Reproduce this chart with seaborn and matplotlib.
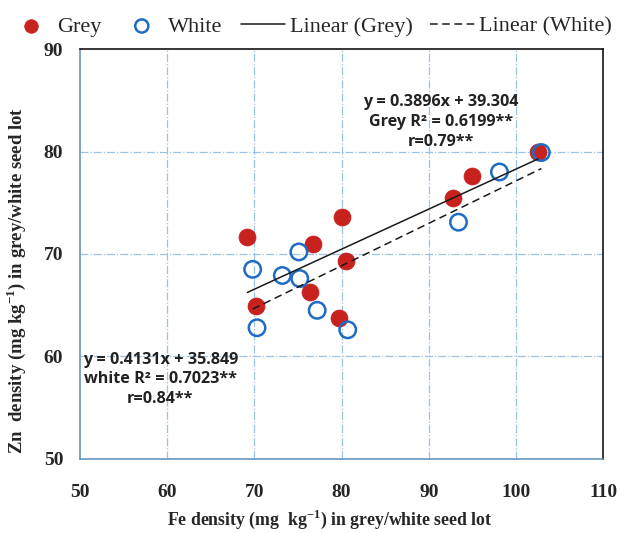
import numpy as np
import pandas as pd
import matplotlib
matplotlib.use("Agg")
import matplotlib.pyplot as plt
import seaborn as sns

# Fe / Zn densities (mg kg-1)
grey_fe = [69.2, 80.1, 76.7, 80.5, 76.4, 70.2, 79.7, 92.8, 94.9, 102.5]
grey_zn = [71.7, 73.6, 71.0, 69.3, 66.3, 64.9, 63.8, 75.5, 77.6, 80.0]
white_fe = [69.8, 75.1, 73.2, 75.2, 77.2, 70.3, 80.7, 93.4, 98.1, 102.9]
white_zn = [68.5, 70.2, 67.9, 67.6, 64.5, 62.8, 62.6, 73.1, 78.0, 79.9]

x_ticks = [50, 60, 70, 80, 90, 100, 110]
y_ticks = [50, 60, 70, 80, 90]

grey_eq = ["y = 0.3896x + 39.304", "Grey R\u00b2 = 0.6199**", "r=0.79**"]
white_eq = ["y = 0.4131x + 35.849", "white R\u00b2 = 0.7023**", "r=0.84**"]

sns.set_style("white")
plt.rcParams["font.family"] = ["Liberation Serif", "DejaVu Serif"]
plt.rcParams["mathtext.fontset"] = "custom"
plt.rcParams["mathtext.rm"] = "Liberation Serif:bold"
plt.rcParams["mathtext.bf"] = "Liberation Serif:bold"

fig = plt.figure(figsize=(6.2, 5.33), dpi=100)
ax = fig.add_axes([0.129, 0.139, 0.844, 0.769])

grey_df = pd.DataFrame({"fe": grey_fe, "zn": grey_zn})
white_df = pd.DataFrame({"fe": white_fe, "zn": white_zn})

# Grid (dash-dot light blue), inner lines only
for v in x_ticks[1:-1]:
    ax.axvline(v, color="#9cc3e4", lw=0.9, ls="-.", zorder=0)
for v in y_ticks[1:-1]:
    ax.axhline(v, color="#9cc3e4", lw=0.9, ls="-.", zorder=0)

sns.scatterplot(data=grey_df, x="fe", y="zn", ax=ax, s=150, color="#c8221f",
                edgecolor="#c8221f", linewidth=0.5, label="Grey", zorder=3)
sns.scatterplot(data=white_df, x="fe", y="zn", ax=ax, s=140, facecolor="none",
                edgecolor="#1f6cc4", linewidth=1.8, label="White", zorder=4)
sns.regplot(data=grey_df, x="fe", y="zn", ax=ax, scatter=False, ci=None,
            truncate=True, label="Linear (Grey)",
            line_kws={"color": "#1a1a1a", "lw": 1.1, "zorder": 5})
sns.regplot(data=white_df, x="fe", y="zn", ax=ax, scatter=False, ci=None,
            truncate=True, label="Linear (White)",
            line_kws={"color": "#1a1a1a", "lw": 1.1, "ls": (0, (5, 3)), "zorder": 5})

ax.set_xlim(50, 110)
ax.set_ylim(50, 90)
ax.set_xticks(x_ticks)
ax.set_yticks(y_ticks)
ax.tick_params(axis="both", direction="out", length=4, width=0.8, color="#5b8bb8",
               labelsize=14, pad=8)
for lab in ax.get_xticklabels() + ax.get_yticklabels():
    lab.set_fontweight("bold")
ax.tick_params(axis="x", pad=14)

for side in ["top", "right"]:
    ax.spines[side].set_color("black")
    ax.spines[side].set_linewidth(1.1)
for side in ["left", "bottom"]:
    ax.spines[side].set_color("#5b8bb8")
    ax.spines[side].set_linewidth(1.1)

ax.set_xlabel(r"Fe density (mg  kg$^{-1}$) in grey/white seed lot",
              fontsize=12.8, fontweight="bold")
ax.set_ylabel(r"Zn  density (mg kg$^{-1}$) in grey/white seed lot",
              fontsize=13.5, fontweight="bold")
ax.xaxis.set_label_coords(0.478, -0.12)
ax.yaxis.set_label_coords(-0.1, 0.435)

# Regression equations
ann = dict(ha="center", va="center", fontsize=11.6, fontweight="bold",
           family=["Open Sans", "DejaVu Sans"], color="#222222", zorder=6)
for i, line in enumerate(grey_eq):
    ax.text(91.35, 84.85 - i * 1.98, line, **ann)
for i, line in enumerate(white_eq):
    ax.text(59.2, 59.7 - i * 1.95, line, **ann)

leg = ax.legend(loc="lower center", bbox_to_anchor=(0.44, 1.0), ncol=4, frameon=False,
                fontsize=16, handlelength=2.0, handletextpad=0.2, columnspacing=0.8,
                markerscale=0.8, borderaxespad=0.15)

fig.savefig("out.png", dpi=100)
